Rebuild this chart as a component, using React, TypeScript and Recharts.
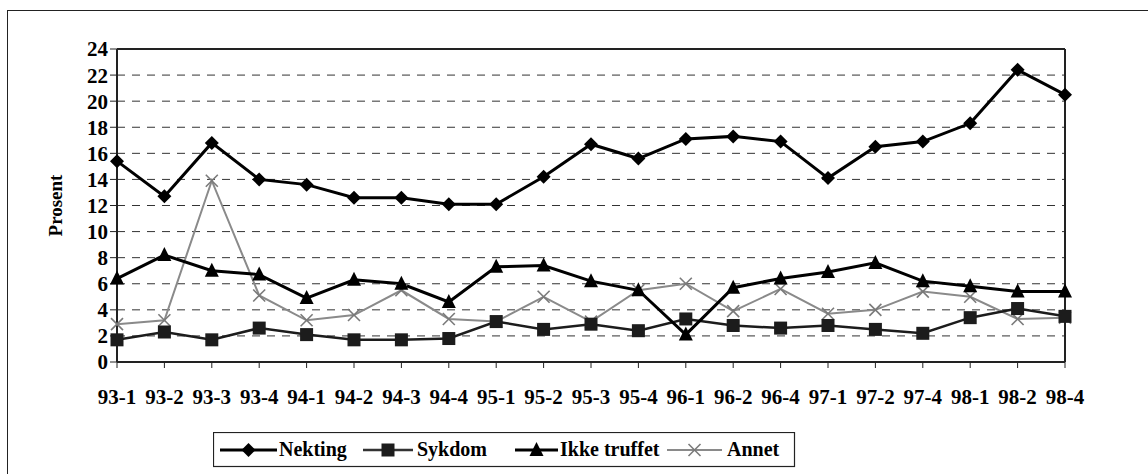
import React from "react"
import {
    CartesianGrid,
    Legend,
    Line,
    LineChart,
    ReferenceLine,
    XAxis,
    YAxis,
} from "recharts"

// Kvartaler
const kvartaler = [
    "93-1", "93-2", "93-3", "93-4", "94-1", "94-2", "94-3", "94-4",
    "95-1", "95-2", "95-3", "95-4", "96-1", "96-2", "96-4", "97-1",
    "97-2", "97-4", "98-1", "98-2", "98-4",
]

// Verdier i prosent, lest av figuren
const nekting = [15.4, 12.7, 16.8, 14.0, 13.6, 12.6, 12.6, 12.1, 12.1, 14.2, 16.7, 15.6, 17.1, 17.3, 16.9, 14.1, 16.5, 16.9, 18.3, 22.4, 20.5]
const sykdom = [1.7, 2.3, 1.7, 2.6, 2.1, 1.7, 1.7, 1.8, 3.1, 2.5, 2.9, 2.4, 3.3, 2.8, 2.6, 2.8, 2.5, 2.2, 3.4, 4.1, 3.5]
const ikkeTruffet = [6.4, 8.2, 7.0, 6.7, 4.9, 6.3, 6.0, 4.6, 7.3, 7.4, 6.2, 5.5, 2.1, 5.7, 6.4, 6.9, 7.6, 6.2, 5.8, 5.4, 5.4]
const annet = [2.9, 3.2, 13.9, 5.1, 3.2, 3.6, 5.5, 3.3, 3.1, 5.0, 3.1, 5.5, 6.0, 3.9, 5.6, 3.7, 4.0, 5.4, 5.0, 3.3, 3.4]

const yTicks = [0, 2, 4, 6, 8, 10, 12, 14, 16, 18, 20, 22, 24]

const data = kvartaler.map((k, i) => ({
    kvartal: k,
    nekting: nekting[i],
    sykdom: sykdom[i],
    ikke: ikkeTruffet[i],
    annet: annet[i],
}))

const FONT = "Liberation Serif"

// Markører
const Diamond = ({ cx, cy, s = 7 }: any) => (
    <path d={`M${cx},${cy - s}L${cx + s},${cy}L${cx},${cy + s}L${cx - s},${cy}Z`} fill="#000" />
)
const Square = ({ cx, cy, s = 6.5 }: any) => (
    <rect x={cx - s} y={cy - s} width={s * 2} height={s * 2} fill="#1c1c1c" />
)
const Triangle = ({ cx, cy, s = 7 }: any) => (
    <path d={`M${cx},${cy - s - 1}L${cx + s},${cy + s - 1}L${cx - s},${cy + s - 1}Z`} fill="#000" />
)
const Cross = ({ cx, cy, s = 6 }: any) => (
    <g stroke="#7a7a7a" strokeWidth={1.6}>
        <line x1={cx - s} y1={cy - s} x2={cx + s} y2={cy + s} />
        <line x1={cx - s} y1={cy + s} x2={cx + s} y2={cy - s} />
    </g>
)

const dot = (Shape: any) => (props: any) => (
    <Shape key={`${props.dataKey}-${props.index}`} cx={props.cx} cy={props.cy} />
)

// Egen tegnforklaring
const legendItems = [
    { label: "Nekting", x1: 7, x2: 64, text: 66, Shape: Diamond, stroke: "#000", w: 3 },
    { label: "Sykdom", x1: 150, x2: 200, text: 204, Shape: Square, stroke: "#333", w: 2.5 },
    { label: "Ikke truffet", x1: 302, x2: 345, text: 347, Shape: Triangle, stroke: "#000", w: 3 },
    { label: "Annet", x1: 454, x2: 509, text: 514, Shape: Cross, stroke: "#8a8a8a", w: 2 },
]

const LegendBox = () => (
    <svg width={583} height={36} style={{ display: "block" }}>
        <rect x={0.5} y={0.5} width={581} height={34} fill="#fff" stroke="#222" strokeWidth={1.2} />
        {legendItems.map((it) => {
            const mid = (it.x1 + it.x2) / 2
            return (
                <g key={it.label}>
                    <line x1={it.x1} y1={18} x2={it.x2} y2={18} stroke={it.stroke} strokeWidth={it.w} />
                    <it.Shape cx={mid} cy={18} />
                    <text x={it.text} y={24} style={{ fontFamily: FONT }} fontSize={20} fontWeight="bold" fill="#000">
                        {it.label}
                    </text>
                </g>
            )
        })}
    </svg>
)

export default function App() {
    return (
        <div style={{ position: "relative", width: 1148, height: 474, background: "#fff", overflow: "hidden", fontFamily: FONT }}>
            <style>{"body{margin:0} svg text{font-family:'Liberation Serif',serif}"}</style>
            {/* ytre ramme */}
            <div style={{ position: "absolute", left: 7, top: 10, right: 0, bottom: 0, borderLeft: "1.5px solid #222", borderTop: "1.5px solid #222" }} />
            <LineChart
                width={1148}
                height={474}
                data={data}
                margin={{ top: 49, right: 83, left: 56, bottom: 40 }}
                style={{ position: "absolute", left: 0, top: 0 }}
            >
                <CartesianGrid vertical={false} stroke="#333" strokeDasharray="8 7" />
                <XAxis
                    dataKey="kvartal"
                    axisLine={{ stroke: "#222", strokeWidth: 2 }}
                    tickLine={{ stroke: "#222" }}
                    tickSize={6}
                    interval={0}
                    height={36}
                    tick={{ fill: "#000", fontSize: 21, fontWeight: "bold" }}
                    dy={19}
                />
                <YAxis
                    domain={[0, 24]}
                    ticks={yTicks}
                    interval={0}
                    width={61}
                    axisLine={{ stroke: "#222", strokeWidth: 2 }}
                    tickLine={{ stroke: "#222" }}
                    tickSize={7}
                    tick={{ fill: "#000", fontSize: 21, fontWeight: "bold" }}
                    label={{
                        value: "Prosent",
                        angle: -90,
                        position: "insideLeft",
                        offset: 0,
                        dx: -1,
                        style: { fill: "#000", fontSize: 19, fontWeight: "bold", textAnchor: "middle" },
                    }}
                />
                <ReferenceLine y={24} stroke="#222" strokeWidth={2} />
                <ReferenceLine x="98-4" stroke="#222" strokeWidth={2} />
                <Legend
                    verticalAlign="bottom"
                    height={36}
                    content={() => <LegendBox />}
                    wrapperStyle={{ left: 213, width: 583, bottom: 6 }}
                />
                <Line dataKey="annet" stroke="#8a8a8a" strokeWidth={2} dot={dot(Cross)} isAnimationActive={false} />
                <Line dataKey="sykdom" stroke="#1c1c1c" strokeWidth={2.5} dot={dot(Square)} isAnimationActive={false} />
                <Line dataKey="ikke" stroke="#000" strokeWidth={3} dot={dot(Triangle)} isAnimationActive={false} />
                <Line dataKey="nekting" stroke="#000" strokeWidth={3} dot={dot(Diamond)} isAnimationActive={false} />
            </LineChart>
        </div>
    )
}
